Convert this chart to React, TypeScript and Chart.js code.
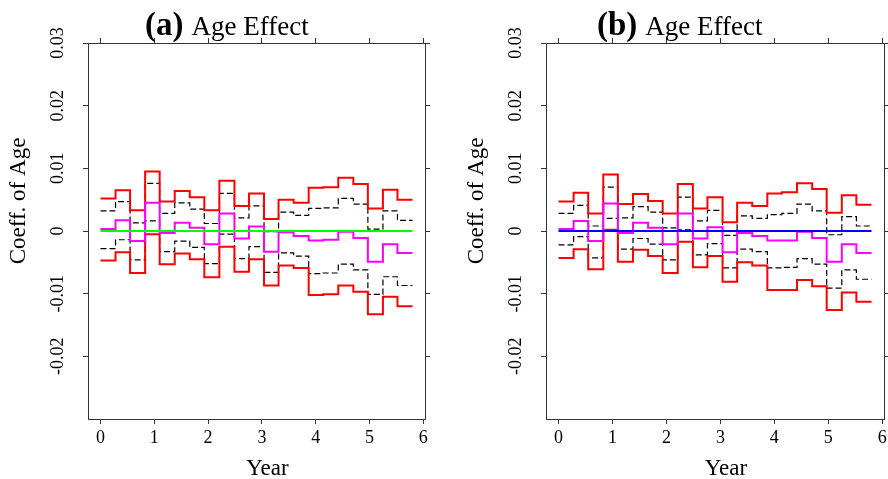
import React, { useEffect, useRef } from 'react';
import { Chart, registerables } from 'chart.js';

Chart.register(...registerables);

const FONT = '"Liberation Serif", "Times New Roman", serif';

// Step boundaries (years)
const YEARS = [0, 0.28, 0.55, 0.83, 1.1, 1.38, 1.66, 1.93, 2.21, 2.49, 2.76, 3.04, 3.31, 3.59, 3.87, 4.14, 4.42, 4.7, 4.97, 5.25, 5.52, 5.8];
const X_TICKS = [0, 1, 2, 3, 4, 5, 6];
const Y_TICKS = [-0.02, -0.01, 0, 0.01, 0.02, 0.03];
const Y_TICK_LABELS = ['-0.02', '-0.01', '0', '0.01', '0.02', '0.03'];

// Panel (a)
const A_UPPER_BAND = [0.0052, 0.0065, 0.0033, 0.0095, 0.0047, 0.0064, 0.0054, 0.0033, 0.008, 0.004, 0.006, 0.0019, 0.005, 0.0045, 0.0069, 0.007, 0.0085, 0.0075, 0.0036, 0.0066, 0.005];
const A_UPPER_CI = [0.0032, 0.0047, 0.0013, 0.0076, 0.0028, 0.0045, 0.0035, 0.0012, 0.006, 0.0021, 0.004, -0.0001, 0.003, 0.0025, 0.0036, 0.0037, 0.0052, 0.0043, 0.0003, 0.0032, 0.0017];
const A_ESTIMATE = [0.0003, 0.0017, -0.0016, 0.0045, -0.0003, 0.0013, 0.0005, -0.0021, 0.0028, -0.0012, 0.0007, -0.0033, -0.0002, -0.0008, -0.0015, -0.0014, -0.0001, -0.0011, -0.0049, -0.0021, -0.0035];
const A_LOWER_CI = [-0.0028, -0.0014, -0.0046, 0.0016, -0.0033, -0.0016, -0.0026, -0.0052, -0.0005, -0.0044, -0.0025, -0.0066, -0.0035, -0.004, -0.0068, -0.0067, -0.0053, -0.0062, -0.0101, -0.0073, -0.0087];
const A_LOWER_BAND = [-0.0047, -0.0034, -0.0067, -0.0005, -0.0053, -0.0036, -0.0045, -0.0074, -0.0025, -0.0065, -0.0045, -0.0087, -0.0055, -0.0059, -0.0102, -0.0101, -0.0087, -0.0097, -0.0133, -0.0105, -0.012];

// Panel (b)
const B_UPPER_BAND = [0.0047, 0.0061, 0.0028, 0.009, 0.0043, 0.0059, 0.0048, 0.0028, 0.0075, 0.0036, 0.0054, 0.0014, 0.0045, 0.004, 0.006, 0.0062, 0.0076, 0.0067, 0.0029, 0.0057, 0.0042];
const B_UPPER_CI = [0.0028, 0.0041, 0.0008, 0.007, 0.0021, 0.0039, 0.003, 0.0005, 0.0054, 0.0016, 0.0033, -0.0007, 0.0024, 0.002, 0.0026, 0.0028, 0.0043, 0.0032, -0.0006, 0.0023, 0.0008];
const B_ESTIMATE = [0.0003, 0.0016, -0.0016, 0.0044, -0.0003, 0.0013, 0.0005, -0.0021, 0.0028, -0.0012, 0.0006, -0.0034, -0.0003, -0.0008, -0.0015, -0.0015, -0.0001, -0.0011, -0.0049, -0.0021, -0.0035];
const B_LOWER_CI = [-0.0022, -0.0009, -0.0043, 0.002, -0.0029, -0.0012, -0.0021, -0.0046, 0.0002, -0.0038, -0.002, -0.0059, -0.0029, -0.0033, -0.0059, -0.0058, -0.0044, -0.0053, -0.0091, -0.0062, -0.0077];
const B_LOWER_BAND = [-0.0043, -0.0029, -0.0061, 0.0002, -0.0049, -0.003, -0.004, -0.0067, -0.0017, -0.0058, -0.004, -0.0081, -0.005, -0.0055, -0.0094, -0.0094, -0.0078, -0.0088, -0.0126, -0.0098, -0.0113];

const ZERO_X = [0, 5.8];
const ZERO_Y = [0, 0];

const X_MIN = -0.232;
const X_MAX = 6.032;
const Y_MIN = -0.03;
const Y_MAX = 0.03;

const FRAME = '#333333';

function steps(vals: number[]) {
  return YEARS.map((x, i) => ({ x, y: vals[Math.min(i, vals.length - 1)] }));
}

type PanelProps = {
  left: number;
  width: number;
  axisLeft: number;
  axisRight: number;
  letter: string;
  titleDx: number;
  zeroColor: string;
  upperBand: number[];
  upperCI: number[];
  estimate: number[];
  lowerCI: number[];
  lowerBand: number[];
};

function Panel(p: PanelProps) {
  const ref = useRef<HTMLCanvasElement | null>(null);
  useEffect(() => {
    if (!ref.current) return;
    const setX = (s: any) => { s.ticks = X_TICKS.map((v) => ({ value: v })); };
    const setY = (s: any) => { s.ticks = Y_TICKS.map((v) => ({ value: v })); };
    const grid = { display: true, drawOnChartArea: false, drawTicks: true, tickLength: 5, color: FRAME, lineWidth: 1 };
    const border = { display: true, color: FRAME, width: 1 };

    const textPlugin = {
      id: 'rtext',
      afterDraw(chart: any) {
        const ctx = chart.ctx as CanvasRenderingContext2D;
        const a = chart.chartArea;
        const xs = chart.scales.x;
        const ys = chart.scales.y;
        ctx.save();
        ctx.fillStyle = '#000';
        // y tick labels (rotated)
        ctx.font = `18px ${FONT}`;
        Y_TICKS.forEach((v, i) => {
          const py = ys.getPixelForValue(v);
          ctx.save();
          ctx.translate(a.left - 25, py);
          ctx.rotate(-Math.PI / 2);
          ctx.textAlign = 'center';
          ctx.textBaseline = 'alphabetic';
          ctx.fillText(Y_TICK_LABELS[i], 0, 0);
          ctx.restore();
        });
        // x tick labels
        ctx.textAlign = 'center';
        ctx.textBaseline = 'alphabetic';
        X_TICKS.forEach((v) => {
          ctx.fillText(String(v), xs.getPixelForValue(v), a.bottom + 24);
        });
        // x title
        ctx.font = `23px ${FONT}`;
        ctx.fillText('Year', (a.left + a.right) / 2 + 11, 475);
        // y title
        ctx.save();
        ctx.translate(a.left - 63, (a.top + a.bottom) / 2 - 30);
        ctx.rotate(-Math.PI / 2);
        ctx.textAlign = 'center';
        ctx.fillText('Coeff. of Age', 0, 0);
        ctx.restore();
        // main title
        ctx.textAlign = 'left';
        const tx = a.left + p.titleDx;
        ctx.font = `bold 33px ${FONT}`;
        const lab = `(${p.letter})`;
        ctx.fillText(lab, tx, 35);
        const w = ctx.measureText(lab).width;
        ctx.font = `27px ${FONT}`;
        ctx.fillText('Age Effect', tx + w + 8, 35);
        ctx.restore();
      },
    };

    const line = (data: any[], color: string, width: number, dash: number[] = []) => ({
      data,
      borderColor: color,
      backgroundColor: color,
      borderWidth: width,
      borderDash: dash,
      pointRadius: 0,
      fill: false,
      stepped: true as const,
      tension: 0,
    });

    const chart = new Chart(ref.current, {
      type: 'line',
      data: {
        datasets: [
          { ...line(ZERO_X.map((x, i) => ({ x, y: ZERO_Y[i] })), p.zeroColor, 2), stepped: false },
          line(steps(p.estimate), '#ff00ff', 2),
          line(steps(p.upperBand), '#ff0000', 2),
          line(steps(p.lowerBand), '#ff0000', 2),
          line(steps(p.upperCI), '#000000', 1.2, [6, 3]),
          line(steps(p.lowerCI), '#000000', 1.2, [6, 3]),
        ] as any,
      },
      options: {
        responsive: false,
        animation: false,
        maintainAspectRatio: false,
        layout: { padding: 0 },
        plugins: { legend: { display: false }, tooltip: { enabled: false }, title: { display: false } },
        scales: {
          x: {
            type: 'linear', position: 'bottom', min: X_MIN, max: X_MAX,
            afterBuildTicks: setX, afterFit: (s: any) => { s.height = 60; },
            grid, border, ticks: { display: false },
          },
          x2: {
            type: 'linear', position: 'top', min: X_MIN, max: X_MAX,
            afterBuildTicks: setX, afterFit: (s: any) => { s.height = 43; },
            grid, border, ticks: { display: false },
          },
          y: {
            type: 'linear', position: 'left', min: Y_MIN, max: Y_MAX,
            afterBuildTicks: setY, afterFit: (s: any) => { s.width = p.axisLeft; },
            grid, border, ticks: { display: false },
          },
          y2: {
            type: 'linear', position: 'right', min: Y_MIN, max: Y_MAX,
            afterBuildTicks: setY, afterFit: (s: any) => { s.width = p.axisRight; },
            grid, border, ticks: { display: false },
          },
        },
      } as any,
      plugins: [textPlugin],
    });
    return () => chart.destroy();
  }, []);
  return (
    <canvas
      ref={ref}
      width={p.width}
      height={479}
      style={{ position: 'absolute', left: p.left, top: 0, width: p.width, height: 479, display: 'block' }}
    />
  );
}

export default function App() {
  return (
    <div style={{ position: 'fixed', left: 0, top: 0, width: 888, height: 479, background: '#fff', overflow: 'hidden' }}>
      <Panel
        left={0} width={444} axisLeft={88} axisRight={19} letter="a" titleDx={57} zeroColor="#00ff00"
        upperBand={A_UPPER_BAND} upperCI={A_UPPER_CI} estimate={A_ESTIMATE} lowerCI={A_LOWER_CI} lowerBand={A_LOWER_BAND}
      />
      <Panel
        left={444} width={444} axisLeft={102} axisRight={4} letter="b" titleDx={51} zeroColor="#0000ff"
        upperBand={B_UPPER_BAND} upperCI={B_UPPER_CI} estimate={B_ESTIMATE} lowerCI={B_LOWER_CI} lowerBand={B_LOWER_BAND}
      />
    </div>
  );
}
